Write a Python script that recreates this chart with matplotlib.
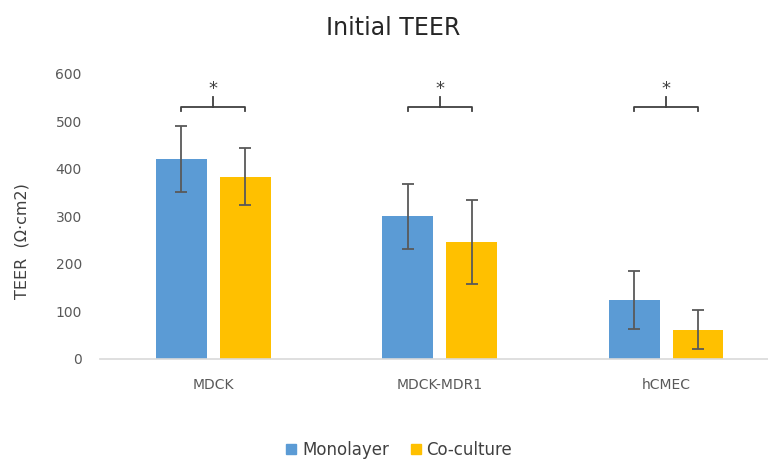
import numpy as np
import matplotlib.pyplot as plt
from matplotlib.patches import Patch

plt.rcParams['font.family'] = ['DejaVu Sans']

cell_lines = ['MDCK', 'MDCK-MDR1', 'hCMEC']
mono = [421, 300, 124]
mono_err = [69, 69, 62]
cocult = [384, 246, 61]
cocult_err = [60, 89, 41]
series_names = ['Monolayer', 'Co-culture']
yticks = [0, 100, 200, 300, 400, 500, 600]

blue = '#5B9BD5'
gold = '#FFC000'
grey = '#595959'

fig = plt.figure(figsize=(7.68, 4.59), dpi=100)
ax = fig.add_axes([0.130, 0.218, 0.870, 0.621])

x = np.arange(len(cell_lines))
w = 0.225
off = 0.141
err_kw = dict(ecolor=grey, elinewidth=1.3, capsize=4.5, capthick=1.3)
ax.bar(x - off, mono, w, color=blue, yerr=mono_err, error_kw=err_kw, zorder=2)
ax.bar(x + off, cocult, w, color=gold, yerr=cocult_err, error_kw=err_kw, zorder=2)

# significance brackets
for xi in x:
    x0, x1 = xi - off, xi + off
    ax.plot([x0, x0, x1, x1], [522, 531, 531, 522], color='#404040', lw=1.3,
            solid_joinstyle='round', clip_on=False)
    ax.plot([xi, xi], [531, 551], color='#404040', lw=1.3, clip_on=False)
    ax.text(xi, 568, '*', ha='center', va='center', fontsize=13, color='#404040')

ax.set_xlim(-0.5, 2.45)
ax.set_ylim(0, 600)
ax.set_yticks(yticks)
ax.set_xticks(x)
ax.set_xticklabels(cell_lines)
ax.tick_params(axis='both', length=0, colors=grey, labelsize=10)
ax.tick_params(axis='y', pad=13)
ax.tick_params(axis='x', pad=14)
for s in ['top', 'right', 'left']:
    ax.spines[s].set_visible(False)
ax.spines['bottom'].set_color('#D9D9D9')
ax.spines['bottom'].set_linewidth(1.2)

ax.set_ylabel('TEER  (Ω·cm2)', fontsize=11.5, color='#404040')
ax.yaxis.set_label_coords(-0.105, 0.414)
fig.text(0.512, 0.94, 'Initial TEER', ha='center', va='center', fontsize=17, color='#262626')

handles = [Patch(color=blue), Patch(color=gold)]
fig.legend(handles, series_names, loc='center', bbox_to_anchor=(0.52, 0.02), ncol=2,
           frameon=False, handlelength=0.6, handleheight=0.6, handletextpad=0.35,
           columnspacing=1.3, fontsize=12, labelcolor='#404040')

fig.savefig('out.png', dpi=100)
